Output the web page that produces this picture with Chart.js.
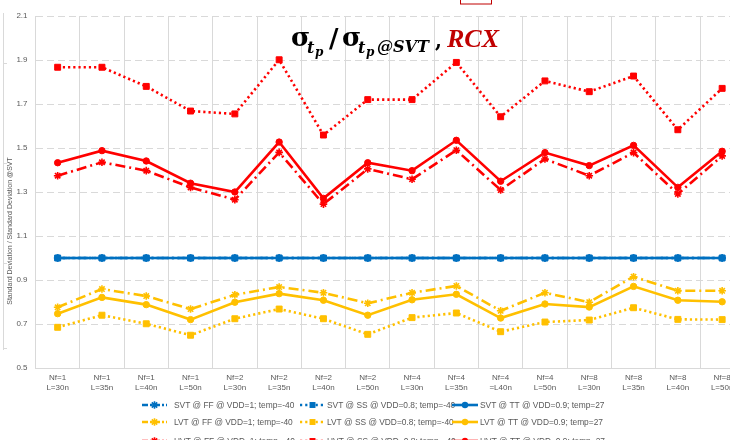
<!DOCTYPE html>
<html><head><meta charset="utf-8">
<script src="https://cdn.jsdelivr.net/npm/chart.js@4.4.1/dist/chart.umd.min.js"></script>
<style>
html,body{margin:0;padding:0;background:#fff;overflow:hidden;width:730px;height:440px}
#wrap{position:relative;width:750px;height:440px}
</style></head><body>
<div id="wrap"><canvas id="c" width="750" height="440"></canvas></div>
<script>
// ---- data ----
const categories = [
  ["Nf=1","L=30n"],["Nf=1","L=35n"],["Nf=1","L=40n"],["Nf=1","L=50n"],
  ["Nf=2","L=30n"],["Nf=2","L=35n"],["Nf=2","L=40n"],["Nf=2","L=50n"],
  ["Nf=4","L=30n"],["Nf=4","L=35n"],["Nf=4","=L40n"],["Nf=4","L=50n"],
  ["Nf=8","L=30n"],["Nf=8","L=35n"],["Nf=8","L=40n"],["Nf=8","L=50n"]
];
const yTicks = [0.5,0.7,0.9,1.1,1.3,1.5,1.7,1.9,2.1];

const svtFF = [1,1,1,1,1,1,1,1,1,1,1,1,1,1,1,1];
const svtSS = [1,1,1,1,1,1,1,1,1,1,1,1,1,1,1,1];
const svtTT = [1,1,1,1,1,1,1,1,1,1,1,1,1,1,1,1];

const lvtFF = [0.776,0.859,0.827,0.768,0.833,0.868,0.842,0.794,0.842,0.873,0.760,0.842,0.799,0.915,0.851,0.851];
const lvtSS = [0.685,0.740,0.701,0.649,0.724,0.768,0.724,0.653,0.729,0.750,0.665,0.709,0.718,0.774,0.721,0.720];
const lvtTT = [0.747,0.821,0.788,0.720,0.799,0.838,0.808,0.740,0.810,0.835,0.727,0.791,0.777,0.871,0.808,0.801];

const hvtFF = [1.374,1.435,1.397,1.321,1.265,1.480,1.245,1.405,1.358,1.490,1.309,1.450,1.374,1.479,1.291,1.464];
const hvtSS = [1.867,1.867,1.780,1.668,1.655,1.901,1.559,1.720,1.720,1.889,1.642,1.805,1.756,1.827,1.583,1.771];
const hvtTT = [1.433,1.488,1.441,1.340,1.300,1.527,1.271,1.433,1.397,1.535,1.349,1.479,1.420,1.512,1.321,1.485];

const seriesLabels = [
  "SVT @ FF @ VDD=1; temp=-40","SVT @ SS @ VDD=0.8; temp=-40","SVT @ TT @ VDD=0.9; temp=27",
  "LVT @ FF @ VDD=1; temp=-40","LVT @ SS @ VDD=0.8; temp=-40","LVT @ TT @ VDD=0.9; temp=27",
  "HVT @ FF @ VDD=1; temp=-40","HVT @ SS @ VDD=0.8; temp=-40","HVT @ TT @ VDD=0.9; temp=27"
];
const seriesData = [svtFF,svtSS,svtTT,lvtFF,lvtSS,lvtTT,hvtFF,hvtSS,hvtTT];

// ---- styles ----
const BLUE='#0070C0', YEL='#FFC000', RED='#FF0000';
const colorsBy = [BLUE,BLUE,BLUE,YEL,YEL,YEL,RED,RED,RED];
const kinds = ['FF','SS','TT','FF','SS','TT','FF','SS','TT'];
const kindStyle = {
  FF:{dash:[10,4,2,4], point:'star', r:3.8, pbw:1.6},
  SS:{dash:[2.2,3], point:'rect', r:4.2, pbw:1},
  TT:{dash:[], point:'circle', r:3.2, pbw:1}
};

const datasets = seriesData.map((d,i)=>{
  const st = kindStyle[kinds[i]];
  return {
    label: seriesLabels[i], data: d,
    borderColor: colorsBy[i], backgroundColor: colorsBy[i],
    borderWidth: 2.6, borderDash: st.dash, borderCapStyle:'butt',
    pointStyle: st.point, pointRadius: st.r, pointBorderWidth: st.pbw,
    pointBackgroundColor: colorsBy[i], pointBorderColor: colorsBy[i],
    tension: 0, fill:false, order: 9-i
  };
});

function drawMarker(ctx, style, x, y, r, color, bw){
  ctx.save();
  ctx.fillStyle=color; ctx.strokeStyle=color; ctx.lineWidth=bw; ctx.setLineDash([]);
  if(style==='rect'){ const s=r*Math.SQRT1_2; ctx.fillRect(x-s,y-s,2*s,2*s); }
  else if(style==='circle'){ ctx.beginPath(); ctx.arc(x,y,r,0,Math.PI*2); ctx.fill(); }
  else { ctx.beginPath();
    for(let k=0;k<4;k++){ const a=k*Math.PI/4; ctx.moveTo(x-r*Math.cos(a),y-r*Math.sin(a)); ctx.lineTo(x+r*Math.cos(a),y+r*Math.sin(a)); }
    ctx.stroke(); }
  ctx.restore();
}

const extras = {
  id:'extras',
  afterDraw(chart){
    const ctx = chart.ctx;
    // legend
    const cols = [{l0:142,l1:167,t:174},{l0:300,l1:325,t:327},{l0:452,l1:478,t:480}];
    const rows = [405,422,441];
    ctx.save();
    ctx.font = '8.4px "Liberation Sans", Arial, sans-serif';
    ctx.textBaseline='middle';
    for(let i=0;i<9;i++){
      const c=cols[i%3], y=rows[Math.floor(i/3)], st=kindStyle[kinds[i]], col=colorsBy[i];
      ctx.save();
      ctx.strokeStyle=col; ctx.lineWidth=2.6; ctx.setLineDash(st.dash.length?(kinds[i]==='FF'?[6,2,2,2]:st.dash):[]);
      ctx.beginPath(); ctx.moveTo(c.l0,y); ctx.lineTo(c.l1,y); ctx.stroke();
      ctx.restore();
      drawMarker(ctx, st.point, (c.l0+c.l1)/2, y, st.r, col, st.pbw);
      ctx.fillStyle='#595959';
      ctx.fillText(seriesLabels[i], c.t, y+0.5);
    }
    ctx.restore();

    // y-axis title
    ctx.save();
    ctx.translate(10,231); ctx.rotate(-Math.PI/2);
    ctx.font='7px "Liberation Sans", Arial, sans-serif'; ctx.fillStyle='#595959';
    ctx.textAlign='center'; ctx.textBaseline='middle';
    ctx.fillText('Standard Deviation / Standard Deviation @SVT',0,0);
    ctx.restore();

    // faint frame fragment at far left
    ctx.save();
    ctx.strokeStyle='#D9D9D9'; ctx.lineWidth=1;
    ctx.beginPath(); ctx.moveTo(3.5,13); ctx.lineTo(3.5,350);
    [63,163,263,348].forEach(t=>{ctx.moveTo(3.5,t+0.5); ctx.lineTo(7,t+0.5);});
    ctx.stroke();
    // fragment of box at top
    ctx.strokeStyle='#C00000';
    ctx.strokeRect(460.5,-10,31,14);
    ctx.restore();

    // title formula (pieces placed at their positions)
    ctx.save();
    ctx.textBaseline='alphabetic';
    const put=(txt,font,x,y,color)=>{ctx.font=font; ctx.fillStyle=color||'#000'; ctx.fillText(txt,x,y);};
    const big='bold 26px "DejaVu Serif", serif';
    const sub='bold italic 16px "DejaVu Serif", serif';
    const sub2='bold italic 12px "DejaVu Serif", serif';
    put('σ',big,291,46);
    put('t',sub,307,53); put('p',sub2,315,56);
    put('/',big,329,47);
    put('σ',big,342,46);
    put('t',sub,358,53); put('p',sub2,366,56);
    put('@SVT','bold italic 16px "DejaVu Serif", serif',377,52);
    put(',','bold 20px "DejaVu Serif", serif',435,47);
    put('RCX','bold italic 26px "Liberation Serif", serif',447,47,'#C00000');
    ctx.restore();
  }
};

new Chart(document.getElementById('c'),{
  type:'line',
  data:{labels:categories, datasets},
  options:{
    responsive:false, animation:false, devicePixelRatio:1,
    layout:{padding:{left:0,right:5.7,top:16,bottom:0}},
    plugins:{legend:{display:false}, tooltip:{enabled:false}, title:{display:false}},
    scales:{
      x:{
        offset:true,
        grid:{offset:true, color:'#D9D9D9', lineWidth:1, drawTicks:false},
        border:{color:'#D9D9D9', width:1},
        ticks:{autoSkip:false, maxRotation:0, minRotation:0, padding:5, color:'#595959',
               font:{family:'"Liberation Sans", Arial, sans-serif', size:8, lineHeight:1.2}},
        afterFit(s){ s.height=72; }
      },
      y:{
        min:0.5, max:2.1,
        afterBuildTicks(s){ s.ticks = yTicks.map(v=>({value:v})); },
        grid:{color:'#D9D9D9', lineWidth:1, drawTicks:false},
        border:{color:'#D9D9D9', width:1, dash:[7,4]},
        ticks:{padding:8, color:'#595959', callback:v=>Number(v).toFixed(1),
               font:{family:'"Liberation Sans", Arial, sans-serif', size:8}},
        afterFit(s){ s.width=35.5; }
      }
    }
  },
  plugins:[extras]
});
</script>
</body></html>
